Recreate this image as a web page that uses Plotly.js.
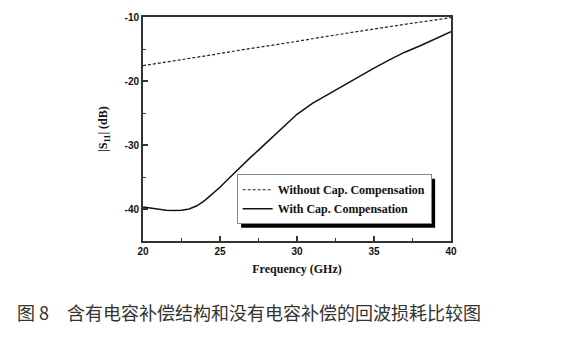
<!DOCTYPE html>
<html>
<head>
<meta charset="utf-8">
<script src="https://cdn.plot.ly/plotly-3.0.1.min.js"></script>
<style>html,body{margin:0;padding:0;background:#fff;}#chart{width:563px;height:345px;}</style>
</head>
<body>
<div id="chart"></div>
<script>
const freqWith = [20, 20.5, 21, 21.5, 22, 22.5, 23, 23.5, 24, 24.5, 25, 25.5, 26, 26.5, 27, 27.5, 28, 28.5, 29, 29.5, 30, 31, 32, 33, 34, 35, 36, 37, 38, 39, 40];
const s11With = [-39.7, -39.9, -40.0, -40.2, -40.25, -40.2, -40.0, -39.5, -38.7, -37.7, -36.6, -35.4, -34.2, -33.0, -31.9, -30.8, -29.7, -28.6, -27.5, -26.3, -25.2, -23.5, -22.1, -20.8, -19.4, -18.0, -16.7, -15.5, -14.5, -13.4, -12.3];
const freqWithout = [20, 22, 24, 26, 28, 30, 32, 34, 36, 38, 40];
const s11Without = [-17.6, -16.9, -16.1, -15.3, -14.6, -13.8, -13.0, -12.2, -11.5, -10.8, -10.1];
const seriesNames = ["Without Cap. Compensation", "With Cap. Compensation"];
const xTickVals = [20, 25, 30, 35, 40];
const xTickText = ["20", "25", "30", "35", "40"];
const yTickVals = [-40, -30, -20, -10];
const yTickText = ["-40", "-30", "-20", "-10"];
const xTitle = "Frequency (GHz)";
const yTitle = "|S<sub>11</sub>| (dB)";
const caption = "图 8　含有电容补偿结构和没有电容补偿的回波损耗比较图";

const serifBold = {family: "'Liberation Serif', 'Times New Roman', serif", size: 12, color: "#111", weight: "bold"};
const sansBold = {family: "'Liberation Sans', Arial, sans-serif", size: 10, color: "#111", weight: "bold"};

const traces = [
  {x: freqWithout, y: s11Without, name: seriesNames[0], mode: "lines",
   line: {color: "#222", width: 1.2, dash: "3px,2px"}},
  {x: freqWith, y: s11With, name: seriesNames[1], mode: "lines",
   line: {color: "#111", width: 1.5}}
];

const axisCommon = {
  showline: true, mirror: true, linecolor: "#333", linewidth: 2,
  ticks: "inside", ticklen: 5, tickwidth: 1.5, tickcolor: "#333",
  showgrid: false, zeroline: false, tickfont: sansBold
};

const layout = {
  width: 563, height: 345,
  margin: {l: 143, r: 112, t: 17, b: 104},
  paper_bgcolor: "#fff", plot_bgcolor: "#fff",
  showlegend: true,
  legend: {x: 0.304, y: 0.298, xanchor: "left", yanchor: "top",
           bgcolor: "#fff", bordercolor: "#888", borderwidth: 1,
           font: serifBold, tracegroupgap: 0},
  xaxis: Object.assign({}, axisCommon, {
    range: [20, 40], tickvals: xTickVals, ticktext: xTickText,
    minor: {ticks: "inside", ticklen: 3, dtick: 2.5, tickcolor: "#333", tickwidth: 1},
    title: {text: xTitle, font: serifBold, standoff: 9}
  }),
  yaxis: Object.assign({}, axisCommon, {
    range: [-45, -10], tickvals: yTickVals, ticktext: yTickText,
    minor: {ticks: "inside", ticklen: 3, dtick: 5, tickcolor: "#333", tickwidth: 1},
    title: {text: yTitle, font: serifBold, standoff: 14}
  }),
  annotations: [
    {text: caption, xref: "paper", yref: "paper", x: (15 - 143) / 308, y: (241 - 312) / 224,
     xanchor: "left", yanchor: "middle", showarrow: false,
     font: {family: "'Noto Sans CJK SC', sans-serif", size: 18, color: "#333"}}
  ]
};

Plotly.newPlot("chart", traces, layout, {displayModeBar: false, staticPlot: true}).then(function (gd) {
  const bg = gd.querySelector(".legend .bg");
  if (!bg) return;
  const r = bg.getBoundingClientRect();
  const c = gd.getBoundingClientRect();
  const sz = gd._fullLayout._size;
  const toPx = function (px) { return (px - sz.l) / sz.w; };
  const toPy = function (py) { return (sz.t + sz.h - py) / sz.h; };
  const left = r.left - c.left + 4, right = r.right - c.left + 4;
  const top = r.top - c.top + 4, bottom = r.bottom - c.top + 4;
  Plotly.relayout(gd, {shapes: [{type: "rect", xref: "paper", yref: "paper",
    x0: toPx(left), x1: toPx(right), y0: toPy(bottom), y1: toPy(top),
    fillcolor: "#000", line: {width: 0}, layer: "above"}]});
});
</script>
</body>
</html>
